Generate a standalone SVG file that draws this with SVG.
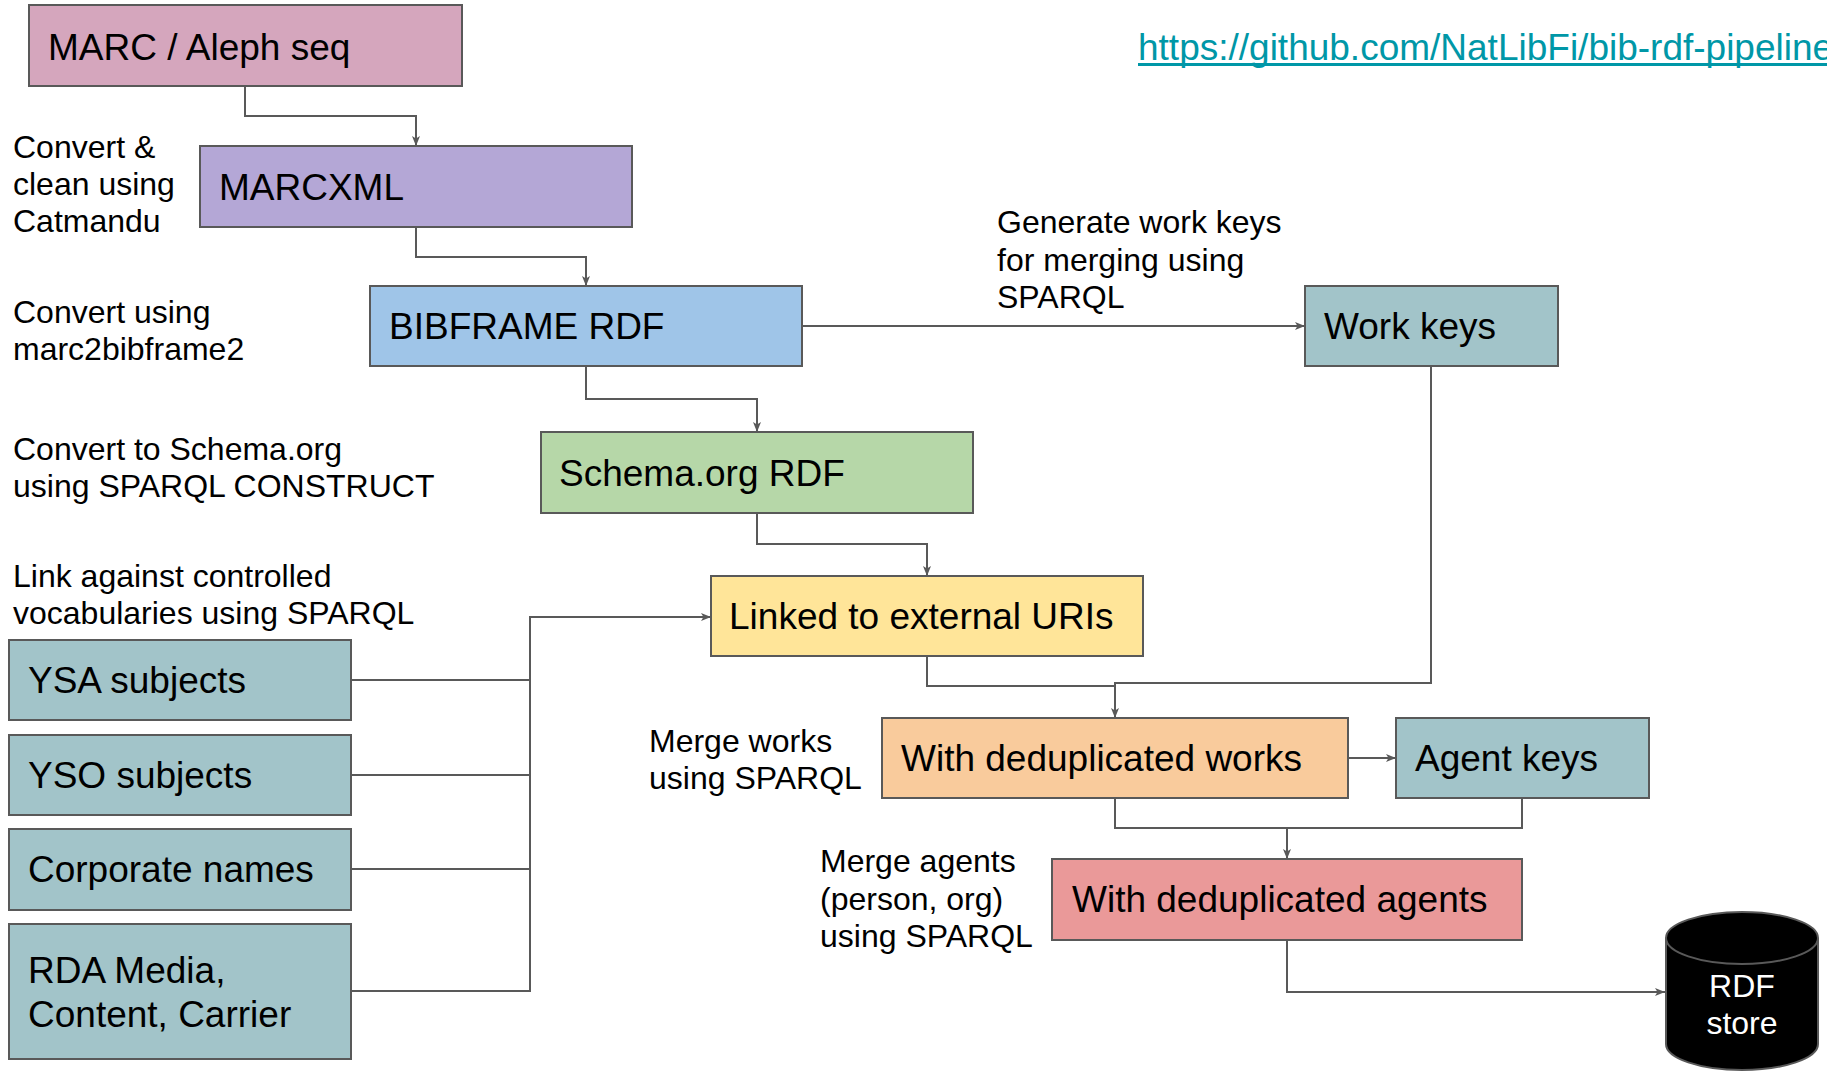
<svg xmlns="http://www.w3.org/2000/svg" width="1827" height="1071" viewBox="0 0 1827 1071">
<defs>
<marker id="arr" markerUnits="userSpaceOnUse" markerWidth="12" markerHeight="10" viewBox="0 0 12 10" refX="11" refY="5" orient="auto">
<path d="M1,1 L11,5 L1,9 L3.5,5 Z" fill="#595959"/>
</marker>
<style>
.box{stroke:#595959;stroke-width:2}
.nt{font-family:"Liberation Sans",Arial,sans-serif;font-size:37px;fill:#000}
.lb{font-family:"Liberation Sans",Arial,sans-serif;font-size:32px;fill:#000}
.c{fill:none;stroke:#595959;stroke-width:2}
.ca{fill:none;stroke:#595959;stroke-width:2;marker-end:url(#arr)}
</style>
</defs>
<rect width="1827" height="1071" fill="#fff"/>

<text class="nt" x="1138" y="60" style="fill:#0097a7">https://github.com/NatLibFi/bib-rdf-pipeline</text>
<rect x="1138" y="63" width="700" height="3" fill="#0097a7"/>

<g id="labels">
<text class="lb" x="13" y="158">Convert &amp;</text>
<text class="lb" x="13" y="195">clean using</text>
<text class="lb" x="13" y="232">Catmandu</text>
<text class="lb" x="13" y="323">Convert using</text>
<text class="lb" x="13" y="360">marc2bibframe2</text>
<text class="lb" x="13" y="460">Convert to Schema.org</text>
<text class="lb" x="13" y="497">using SPARQL CONSTRUCT</text>
<text class="lb" x="13" y="587">Link against controlled</text>
<text class="lb" x="13" y="624">vocabularies using SPARQL</text>
<text class="lb" x="997" y="233">Generate work keys</text>
<text class="lb" x="997" y="271">for merging using</text>
<text class="lb" x="997" y="308">SPARQL</text>
<text class="lb" x="649" y="752">Merge works</text>
<text class="lb" x="649" y="789">using SPARQL</text>
<text class="lb" x="820" y="872">Merge agents</text>
<text class="lb" x="820" y="910">(person, org)</text>
<text class="lb" x="820" y="947">using SPARQL</text>
</g>

<g id="connectors">
<path class="ca" d="M245,86 V116 H416 V146"/>
<path class="ca" d="M416,227 V257 H586 V286"/>
<path class="ca" d="M586,366 V399 H757 V432"/>
<path class="ca" d="M757,513 V544 H927 V576"/>
<path class="ca" d="M802,326 H1305"/>
<path class="c" d="M351,680 H530"/>
<path class="c" d="M351,775 H530"/>
<path class="c" d="M351,869 H530"/>
<path class="ca" d="M351,991 H530 V617 H711"/>
<path class="c" d="M927,656 V686 H1115"/>
<path class="ca" d="M1431,366 V683 H1115 V718"/>
<path class="ca" d="M1348,758 H1396"/>
<path class="c" d="M1115,798 V828 H1522 V798"/>
<path class="ca" d="M1287,828 V859"/>
<path class="ca" d="M1287,940 V992 H1665"/>
</g>

<g id="marc">
<rect class="box" x="29" y="5" width="433" height="81" fill="#d5a6bd"/>
<text class="nt" x="48" y="60">MARC / Aleph seq</text>
</g>
<g id="marcxml">
<rect class="box" x="200" y="146" width="432" height="81" fill="#b4a7d6"/>
<text class="nt" x="219" y="200">MARCXML</text>
</g>
<g id="bibframe">
<rect class="box" x="370" y="286" width="432" height="80" fill="#9fc5e8"/>
<text class="nt" x="389" y="339">BIBFRAME RDF</text>
</g>
<g id="schema">
<rect class="box" x="541" y="432" width="432" height="81" fill="#b6d7a8"/>
<text class="nt" x="559" y="486">Schema.org RDF</text>
</g>
<g id="linked">
<rect class="box" x="711" y="576" width="432" height="80" fill="#ffe599"/>
<text class="nt" x="729" y="629">Linked to external URIs</text>
</g>
<g id="workkeys">
<rect class="box" x="1305" y="286" width="253" height="80" fill="#a2c4c9"/>
<text class="nt" x="1324" y="339">Work keys</text>
</g>
<g id="ysa">
<rect class="box" x="9" y="640" width="342" height="80" fill="#a2c4c9"/>
<text class="nt" x="28" y="693">YSA subjects</text>
</g>
<g id="yso">
<rect class="box" x="9" y="735" width="342" height="80" fill="#a2c4c9"/>
<text class="nt" x="28" y="788">YSO subjects</text>
</g>
<g id="corporate">
<rect class="box" x="9" y="829" width="342" height="81" fill="#a2c4c9"/>
<text class="nt" x="28" y="882">Corporate names</text>
</g>
<g id="rda">
<rect class="box" x="9" y="924" width="342" height="135" fill="#a2c4c9"/>
<text class="nt" x="28" y="983">RDA Media,</text>
<text class="nt" x="28" y="1027">Content, Carrier</text>
</g>
<g id="dedupworks">
<rect class="box" x="882" y="718" width="466" height="80" fill="#f9cb9c"/>
<text class="nt" x="901" y="771">With deduplicated works</text>
</g>
<g id="agentkeys">
<rect class="box" x="1396" y="718" width="253" height="80" fill="#a2c4c9"/>
<text class="nt" x="1415" y="771">Agent keys</text>
</g>
<g id="dedupagents">
<rect class="box" x="1052" y="859" width="470" height="81" fill="#ea9999"/>
<text class="nt" x="1072" y="912">With deduplicated agents</text>
</g>
<g id="rdfstore">
<path d="M1666,938 A76,26 0 0 1 1818,938 V1044 A76,26 0 0 1 1666,1044 Z" fill="#000" stroke="#595959" stroke-width="2"/>
<path d="M1666,938 A76,26 0 0 0 1818,938" fill="none" stroke="#595959" stroke-width="2"/>
<text class="lb" x="1742" y="997" text-anchor="middle" style="fill:#fff">RDF</text>
<text class="lb" x="1742" y="1034" text-anchor="middle" style="fill:#fff">store</text>
</g>
</svg>
